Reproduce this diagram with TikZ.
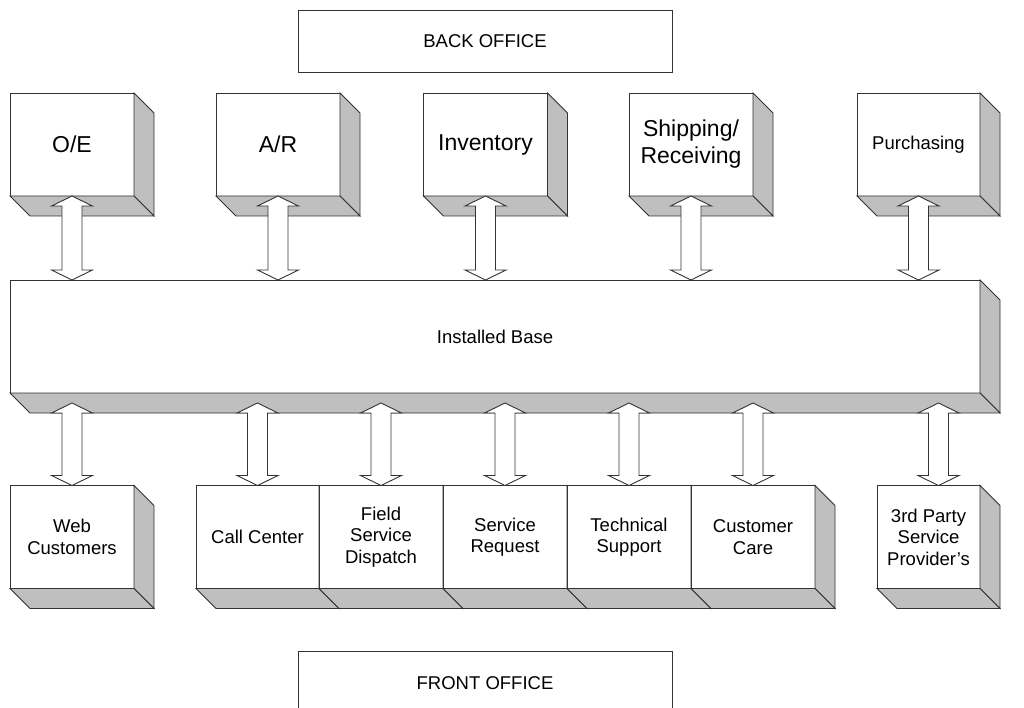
\documentclass[tikz,border=0pt]{standalone}
\usepackage{fontspec}
\setmainfont{Liberation Sans}
\usetikzlibrary{calc}
\tikzset{
  face/.style={draw=black!80, fill=white, line width=0.9pt, inner sep=0pt, outer sep=0pt,
    align=center, font=\fontsize{18.5}{21.5}\selectfont},
  bigface/.style={face, font=\fontsize{23}{27}\selectfont},
  side/.style={draw=black!80, fill=black!25, line width=0.9pt, line join=miter},
  blockarr/.style={draw=black!80, fill=white, line width=0.9pt, line join=miter},
  office/.style={inner sep=0pt, outer sep=0pt, font=\fontsize{18.5}{21.5}\selectfont},
  officeline/.style={draw=black!80, line width=0.9pt}
}
\newcommand\cubesides[1]{%
  \draw[side] (#1.north east) -- ++(20,20) -- ($(#1.south east)+(20,20)$) -- (#1.south east) -- cycle;
  \draw[side] (#1.south west) -- ++(20,20) -- ($(#1.south east)+(20,20)$) -- (#1.south east) -- cycle;
}
\newcommand\dblarrow[2]{%
  \draw[blockarr] let \p1=#1, \p2=#2 in
    (\x1,\y1) -- (\x1+20.5pt,\y1-10pt) -- (\x1+10pt,\y1-10pt) -- (\x1+10pt,\y2+10pt)
    -- (\x1+20.5pt,\y2+10pt) -- (\x1,\y2) -- (\x1-20.5pt,\y2+10pt) -- (\x1-10pt,\y2+10pt)
    -- (\x1-10pt,\y1-10pt) -- (\x1-20.5pt,\y1-10pt) -- cycle;
}
\begin{document}
\begin{tikzpicture}[x=1pt,y=-1pt]
\useasboundingbox (0,0) rectangle (1024,708);
\clip (0,0) rectangle (1024,708);
\fill[white] (0,0) rectangle (1024,708);

% back office
\node[office, officeline, minimum width=374, minimum height=61.5] (bo) at (485,41.3) {BACK OFFICE};

% top row
\node[bigface, minimum width=124, minimum height=103] (oe) at (72,144.5) {O/E};
\cubesides{oe}
\node[bigface, minimum width=124, minimum height=103] (ar) at (278,144.5) {A/R};
\cubesides{ar}
\node[bigface, minimum width=124, minimum height=103] (inv) at (485.5,144.5) {Inventory};
\cubesides{inv}
\node[bigface, minimum width=124, minimum height=103] (ship) at (691,144.5) {Shipping/\\Receiving};
\cubesides{ship}
\node[face, minimum width=123, minimum height=103] (pur) at (918.5,144.5) {Purchasing};
\cubesides{pur}

% installed base
\node[face, minimum width=970, minimum height=113] (ib) at (495,336.5) {Installed Base};
\cubesides{ib}

% bottom row
\node[face, minimum width=124, minimum height=103] (web) at (72,537) {Web\\Customers};
\cubesides{web}
\node[face, minimum width=123, minimum height=103] (cc) at (257.5,537) {Call Center};
\cubesides{cc}
\node[face, minimum width=124, minimum height=103] (fsd) at (381,537) {Field\\Service\\Dispatch};
\cubesides{fsd}
\node[face, minimum width=124, minimum height=103] (sr) at (505,537) {Service\\Request};
\cubesides{sr}
\node[face, minimum width=124, minimum height=103] (ts) at (629,537) {Technical\\Support};
\cubesides{ts}
\node[face, minimum width=124, minimum height=103] (care) at (753,537) {Customer\\Care};
\cubesides{care}
\node[face, minimum width=103, minimum height=103] (tp) at (928.5,537) {3rd Party\\Service\\Provider’s};
\cubesides{tp}

% front office (bottom edge cut off by the page)
\node[office, minimum width=374, minimum height=64] (fo) at (485,683) {FRONT OFFICE};
\draw[officeline] (fo.south west) -- (fo.north west) -- (fo.north east) -- (fo.south east);

% arrows back office <-> installed base
\dblarrow{(oe.south)}{(oe.south |- ib.north)}
\dblarrow{(ar.south)}{(ar.south |- ib.north)}
\dblarrow{(inv.south)}{(inv.south |- ib.north)}
\dblarrow{(ship.south)}{(ship.south |- ib.north)}
\dblarrow{(pur.south)}{(pur.south |- ib.north)}

% arrows installed base <-> front office
\dblarrow{($(web.north |- ib.south)+(0,10)$)}{(web.north)}
\dblarrow{($(cc.north |- ib.south)+(0,10)$)}{(cc.north)}
\dblarrow{($(fsd.north |- ib.south)+(0,10)$)}{(fsd.north)}
\dblarrow{($(sr.north |- ib.south)+(0,10)$)}{(sr.north)}
\dblarrow{($(ts.north |- ib.south)+(0,10)$)}{(ts.north)}
\dblarrow{($(care.north |- ib.south)+(0,10)$)}{(care.north)}
\dblarrow{($(tp.north |- ib.south)+(10,10)$)}{($(tp.north)+(10,0)$)}
\end{tikzpicture}
\end{document}
